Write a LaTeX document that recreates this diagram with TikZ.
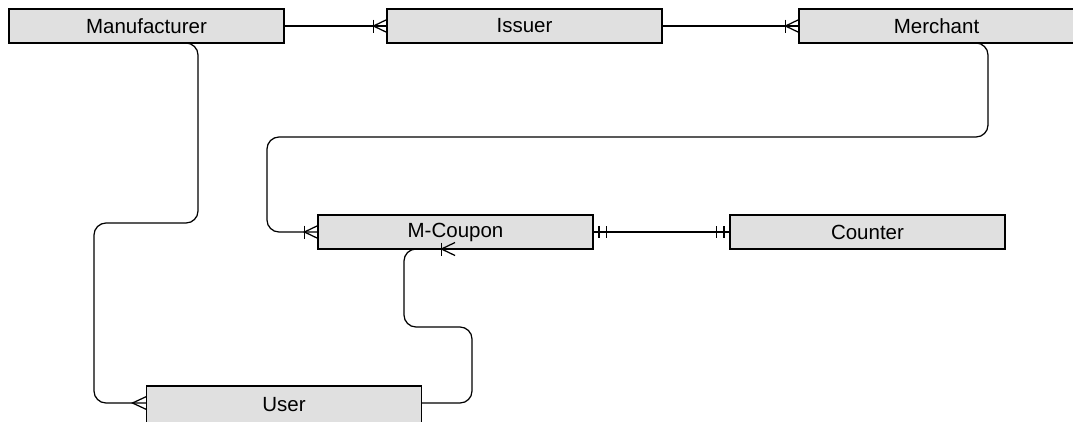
\documentclass[tikz,border=0pt]{standalone}
\usepackage{fontspec}
\setmainfont{Liberation Sans}
\usetikzlibrary{calc}
\definecolor{boxgray}{HTML}{E0E0E0}
\begin{document}
\begin{tikzpicture}[x=1pt,y=-1pt,
  entity/.style={draw=black, fill=boxgray, line width=1.4pt,
    minimum width=275pt, minimum height=34pt, inner sep=0pt, outer sep=0pt,
    font=\fontsize{20.5}{23}\selectfont},
  link/.style={line width=1.25pt, rounded corners=12pt},
  marker/.style={line width=1.25pt},
  % one-or-many: bar plus crow's foot, tip at the entity border
  pics/onemany/.style={code={
    \draw[marker] (-13.5,-6.5) -- (-13.5,6.5);
    \draw[marker] (0,-6.5) -- (-13.5,0) -- (0,6.5);}},
  % many: crow's foot only
  pics/crowmany/.style={code={
    \draw[marker] (0,-6.5) -- (-14,0) -- (0,6.5);}},
  % mandatory one: two bars
  pics/mandone/.style={code={
    \draw[marker] (-6,-6) -- (-6,6) (-13.5,-6) -- (-13.5,6);}},
]
\useasboundingbox (0,0) rectangle (1073,421);
\clip (0,0) rectangle (1073,421);

% entities
\node[entity] (man) at (146.5,26)  {Manufacturer};
\node[entity] (iss) at (524.5,26)  {Issuer};
\node[entity] (mer) at (936.5,26)  {Merchant};
\node[entity] (mc)  at (455.5,232) {M-Coupon};
\node[entity] (cnt) at (867.5,232) {Counter};
\node[entity, minimum height=38pt] (usr) at (284,405) {User};

\coordinate (mcb) at ($(mc.south west)+(137,0)$);
\coordinate (uw) at ($(usr.north west)+(0,17)$);
\coordinate (ue) at ($(usr.north east)+(0,17)$);

% relationships
\draw[link] (man.east) -- (iss.west);
\draw[link] (iss.east) -- (mer.west);
\draw[link] (mc.east) -- (cnt.west);
\draw[link] (mer.south) -- (988,43) -- (988,137) -- (267,137) -- (267,232) -- (mc.west);
\draw[link] (man.south) -- (198,43) -- (198,223) -- (94,223) -- (94,403) -- (uw);
\draw[link] (ue) -- (472,403) -- (472,327) -- (404,327) -- (404,249) -- (mcb);

% cardinality markers
\pic at (iss.west) {onemany};
\pic at (mer.west) {onemany};
\pic at (mc.west) {onemany};
\pic at (mcb) {onemany};
\pic at (uw) {crowmany};
\pic at (cnt.west) {mandone};
\pic[xscale=-1] at (mc.east) {mandone};
\end{tikzpicture}
\end{document}
